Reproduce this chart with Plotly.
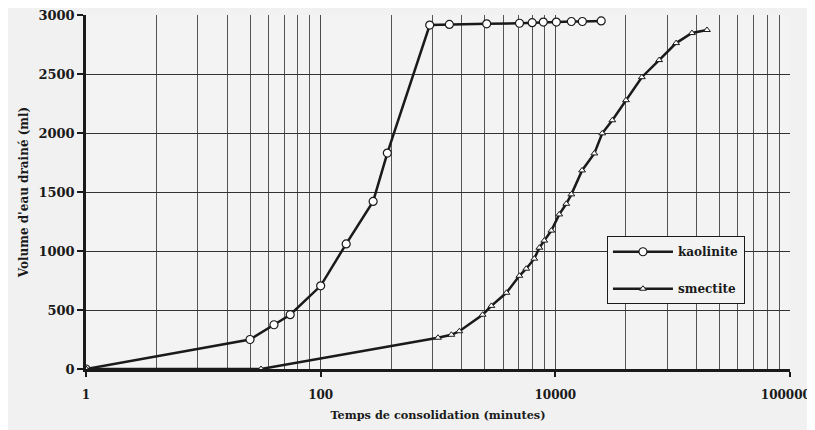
import plotly.graph_objects as go

# ---- data ----
kaolinite_t = [1, 25, 40, 55, 100, 165, 280, 370, 850, 1250, 2600, 4950, 6350,
               7900, 10200, 13700, 17000, 24600]
kaolinite_v = [0, 250, 375, 460, 705, 1060, 1420, 1830, 2915, 2920, 2925, 2930,
               2935, 2940, 2940, 2945, 2945, 2950]

smectite_t = [1, 31, 1000, 1300, 1520, 2400, 2850, 3830, 4940, 5650, 6620, 7310,
              8050, 9250, 10800, 12400, 13700, 16900, 21500, 25100, 30600, 40000,
              54600, 76700, 107000, 146000, 196000]
smectite_v = [0, 0, 265, 290, 320, 460, 535, 646, 790, 850, 935, 1028, 1088, 1173,
              1310, 1400, 1480, 1683, 1827, 1997, 2108, 2278, 2473, 2618, 2762,
              2847, 2873]

x_ticks = [1, 100, 10000, 1000000]
x_tick_labels = ["1", "100", "10000", "1000000"]
y_ticks = [0, 500, 1000, 1500, 2000, 2500, 3000]

# minor grid of a base-100 logarithmic axis (Excel style)
minor_x = [k * k * 100 ** n for n in range(3) for k in range(2, 10)]

FONT = "DejaVu Serif"
INK = "#1a1a1a"

fig = go.Figure()
fig.add_trace(go.Scatter(
    x=kaolinite_t, y=kaolinite_v, name="kaolinite", mode="lines+markers",
    legendgroup="k",
    line=dict(color=INK, width=2.5),
    marker=dict(symbol="circle", size=8, color="white",
                line=dict(color=INK, width=1.2)),
))
fig.add_trace(go.Scatter(
    x=smectite_t, y=smectite_v, name="smectite", mode="lines+markers",
    legendgroup="s",
    line=dict(color=INK, width=2.5),
    marker=dict(symbol="triangle-up", size=6, color="white",
                line=dict(color=INK, width=1)),
))

fig.update_layout(
    width=807, height=422,
    margin=dict(l=78, r=25, t=7, b=61),
    paper_bgcolor="#f1f1f1",
    plot_bgcolor="#f3f3f3",
    font=dict(family=FONT, size=12, color=INK),
    showlegend=True,
    legend=dict(
        x=0.74, y=0.375, xanchor="left", yanchor="top",
        bgcolor="#f3f3f3", bordercolor=INK, borderwidth=1,
        font=dict(family=FONT, size=12, color=INK, weight="bold"),
        itemwidth=60, traceorder="grouped", tracegroupgap=18,
    ),
    xaxis=dict(
        type="log", range=[0, 6], automargin=False,
        tickvals=x_ticks, ticktext=x_tick_labels,
        ticks="outside", ticklen=5, tickwidth=1.5, tickcolor=INK,
        ticklabelstandoff=8, ticklabeloverflow="allow",
        showline=True, linecolor=INK, linewidth=2.5,
        showgrid=True, gridcolor="#4a4a4a", gridwidth=1,
        tickfont=dict(family=FONT, size=12, weight="bold", color=INK),
        minor=dict(tickvals=minor_x, showgrid=True, gridcolor="#555555",
                   gridwidth=1, ticks=""),
        title=dict(text="Temps de consolidation (minutes)", standoff=10,
                   font=dict(family=FONT, size=11.3, weight="bold", color=INK)),
        zeroline=False,
    ),
    yaxis=dict(
        range=[0, 3000], tickvals=y_ticks, automargin=False,
        ticks="outside", ticklen=6, tickwidth=2, tickcolor=INK,
        ticklabeloverflow="allow",
        showline=True, linecolor=INK, linewidth=2.5,
        showgrid=True, gridcolor="#333333", gridwidth=1,
        tickfont=dict(family=FONT, size=13, weight="bold", color=INK),
        title=dict(text="Volume d'eau drainé (ml)", standoff=8,
                   font=dict(family=FONT, size=12, weight="bold", color=INK)),
        zeroline=False,
    ),
)

fig.write_html("out.html")
